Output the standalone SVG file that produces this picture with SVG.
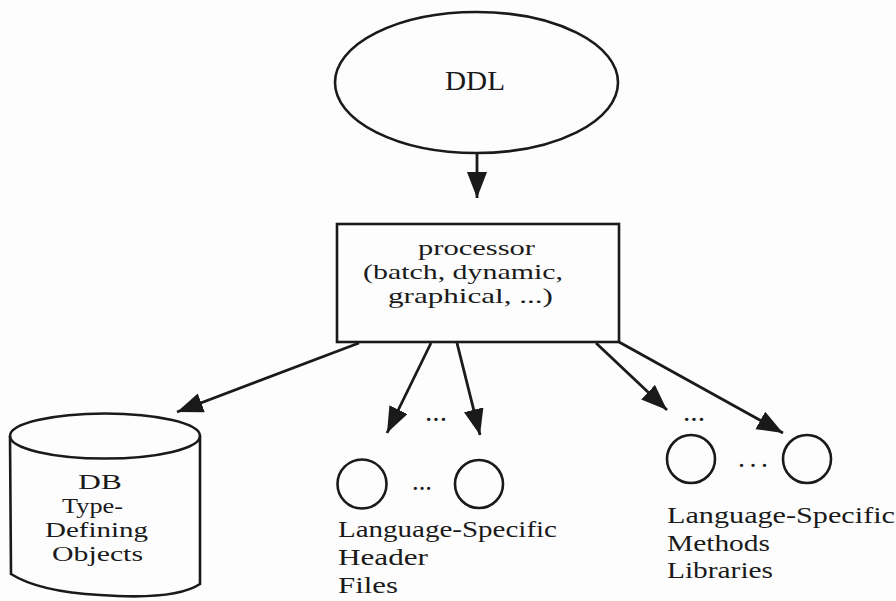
<svg xmlns="http://www.w3.org/2000/svg" width="896" height="601" viewBox="0 0 896 601">
  <defs>
    <style>
      .shape { fill: none; stroke: #1a1a1a; stroke-width: 2.6; }
      .edge { fill: none; stroke: #1a1a1a; stroke-width: 2.8; marker-end: url(#head); }
      .lbl { font-family: "Liberation Serif", "Times New Roman", serif; font-size: 28px; fill: #1a1a1a; }
      .tight { font-size: 21.5px; }
      .list { font-size: 24px; }
      .mid { text-anchor: middle; }
    </style>
    <marker id="head" markerUnits="userSpaceOnUse" markerWidth="28" markerHeight="22" refX="26" refY="10" orient="auto">
      <path d="M0,0 L26,10 L0,20 Z" fill="#1a1a1a"/>
    </marker>
  </defs>

  <rect width="896" height="601" fill="#fdfdfd"/>

  <!-- source: DDL -->
  <g id="ddl">
    <ellipse class="shape" cx="476.5" cy="82.5" rx="141.5" ry="70.5"/>
    <text class="lbl mid" x="475" y="90" textLength="60" lengthAdjust="spacingAndGlyphs">DDL</text>
  </g>

  <!-- processor box -->
  <g id="processor">
    <rect class="shape" x="337" y="224" width="282" height="118"/>
    <text class="lbl tight" x="418" y="255" textLength="117" lengthAdjust="spacingAndGlyphs">processor</text>
    <text class="lbl tight" x="363" y="279" textLength="200" lengthAdjust="spacingAndGlyphs">(batch, dynamic,</text>
    <text class="lbl tight" x="388" y="303" textLength="165" lengthAdjust="spacingAndGlyphs">graphical, ...)</text>
  </g>

  <!-- database cylinder -->
  <g id="db-objects">
    <path class="shape" d="M10,436 L11,574 C30,586 62,593 100,595 C142,598 182,596 200,584 L200,436"/>
    <ellipse class="shape" cx="105" cy="436" rx="95" ry="22.5"/>
    <text class="lbl tight" x="78" y="489" textLength="44" lengthAdjust="spacingAndGlyphs">DB</text>
    <text class="lbl tight" x="62" y="513" textLength="61" lengthAdjust="spacingAndGlyphs">Type-</text>
    <text class="lbl tight" x="45" y="537" textLength="103" lengthAdjust="spacingAndGlyphs">Defining</text>
    <text class="lbl tight" x="52" y="561" textLength="91" lengthAdjust="spacingAndGlyphs">Objects</text>
  </g>

  <!-- header files -->
  <g id="header-files">
    <text class="lbl" x="425" y="421" textLength="22" lengthAdjust="spacingAndGlyphs">...</text>
    <circle class="shape" cx="362" cy="484" r="24.5"/>
    <text class="lbl" x="412" y="490" textLength="20" lengthAdjust="spacingAndGlyphs">...</text>
    <circle class="shape" cx="479" cy="484" r="24"/>
    <text class="lbl list" x="338" y="537" textLength="219" lengthAdjust="spacingAndGlyphs">Language-Specific</text>
    <text class="lbl list" x="338" y="565" textLength="90" lengthAdjust="spacingAndGlyphs">Header</text>
    <text class="lbl list" x="338" y="593" textLength="60" lengthAdjust="spacingAndGlyphs">Files</text>
  </g>

  <!-- method libraries -->
  <g id="method-libraries">
    <text class="lbl" x="683" y="421" textLength="22" lengthAdjust="spacingAndGlyphs">...</text>
    <circle class="shape" cx="691" cy="459" r="24"/>
    <text class="lbl" x="738" y="467" textLength="30" lengthAdjust="spacing">...</text>
    <circle class="shape" cx="807" cy="459" r="24"/>
    <text class="lbl list" x="667" y="523" textLength="228" lengthAdjust="spacingAndGlyphs">Language-Specific</text>
    <text class="lbl list" x="667" y="551" textLength="103" lengthAdjust="spacingAndGlyphs">Methods</text>
    <text class="lbl list" x="667" y="578" textLength="106" lengthAdjust="spacingAndGlyphs">Libraries</text>
  </g>

  <!-- connectors -->
  <g id="connectors">
    <line class="edge" x1="477" y1="153" x2="477" y2="198"/>
    <line class="edge" x1="359" y1="343" x2="177" y2="412"/>
    <line class="edge" x1="431" y1="343" x2="387" y2="433"/>
    <line class="edge" x1="457" y1="343" x2="480" y2="435"/>
    <line class="edge" x1="596" y1="343" x2="667" y2="410"/>
    <line class="edge" x1="619" y1="342" x2="783" y2="433"/>
  </g>
</svg>
